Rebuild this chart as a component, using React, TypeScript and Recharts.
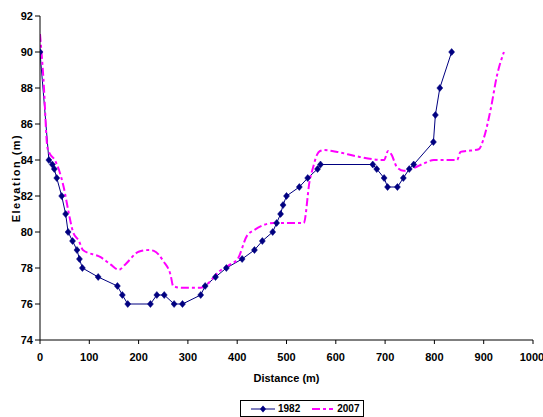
import { LineChart, Line, XAxis, YAxis, Legend } from "recharts";

const dist1982 = [0, 18, 25, 29, 34, 44, 52, 57, 66, 75, 80, 86, 118, 157, 167, 178, 224, 237, 252, 272, 289, 326, 335, 356, 378, 410, 435, 451, 472, 480, 488, 493, 500, 526, 543, 563, 569, 675, 683, 698, 705, 725, 737, 749, 758, 798, 802, 811, 835];
const elev1982 = [90, 84, 83.75, 83.5, 83, 82, 81, 80, 79.5, 79, 78.5, 78, 77.5, 77, 76.5, 76, 76, 76.5, 76.5, 76, 76, 76.5, 77, 77.5, 78, 78.5, 79, 79.5, 80, 80.5, 81, 81.5, 82, 82.5, 83, 83.5, 83.75, 83.75, 83.5, 83, 82.5, 82.5, 83, 83.5, 83.75, 85, 86.5, 88, 90];

const dist2007 = [0, 7, 15, 19, 30, 39, 48, 58, 67, 79, 87, 123, 143, 160, 173, 200, 221, 231, 251, 265, 270, 288, 326, 339, 363, 386, 401, 420, 434, 474, 535, 547, 554, 562, 568, 576, 603, 643, 698, 706, 713, 724, 738, 758, 778, 799, 846, 853, 866, 890, 900, 914, 927, 941];
const elev2007 = [91, 88.5, 84.7, 84.4, 84, 83.4, 82.5, 81.1, 80, 79.5, 79, 78.6, 78.2, 77.9, 78.2, 78.9, 79, 78.95, 78.35, 77.6, 77, 76.9, 76.9, 77.1, 77.8, 78.2, 78.5, 79.8, 80.1, 80.5, 80.5, 82.85, 83.6, 84.3, 84.5, 84.55, 84.45, 84.2, 84, 84.5, 84.3, 83.6, 83.4, 83.55, 83.8, 84, 84, 84.45, 84.5, 84.6, 85.2, 86.8, 88.7, 90];

const xTicks = [0, 100, 200, 300, 400, 500, 600, 700, 800, 900, 1000];
const yTicks = [74, 76, 78, 80, 82, 84, 86, 88, 90, 92];
const seriesNames = ["1982", "2007"];

const data1982 = dist1982.map((d, i) => ({ distance: d, elevation: elev1982[i] }));
const data2007 = dist2007.map((d, i) => ({ distance: d, elevation: elev2007[i] }));

const BLUE = "#000080";
const MAGENTA = "#FF00FF";
const FONT = "'Liberation Sans Narrow', 'Liberation Sans', Arial, sans-serif";
const tickStyle = { fill: "#000", fontSize: 11, fontWeight: 700, fontFamily: FONT };

function Diamond(props: any) {
  const { cx, cy, index } = props;
  if (cx == null || cy == null) return null;
  return (
    <path
      key={`d-${index}`}
      d={`M${cx},${cy - 3.5}L${cx + 3},${cy}L${cx},${cy + 3.5}L${cx - 3},${cy}Z`}
      fill={BLUE}
      stroke={BLUE}
      strokeWidth={0.5}
    />
  );
}

function LegendBox() {
  return (
    <div
      style={{
        display: "flex",
        alignItems: "center",
        border: "1px solid #000",
        padding: "2px 3px 2px 10px",
        background: "#fff",
        fontFamily: FONT,
        fontSize: 10,
        fontWeight: 700,
      }}
    >
      <svg width={24} height={10}>
        <line x1={0} y1={5} x2={24} y2={5} stroke={BLUE} strokeWidth={1} />
        <path d="M12,1.5L15,5L12,8.5L9,5Z" fill={BLUE} />
      </svg>
      <span style={{ marginLeft: 3 }}>{seriesNames[0]}</span>
      <svg width={21} height={10} style={{ marginLeft: 12 }}>
        <line x1={0} y1={5} x2={21} y2={5} stroke={MAGENTA} strokeWidth={2} strokeDasharray="8 3 3 3" />
      </svg>
      <span style={{ marginLeft: 4 }}>{seriesNames[1]}</span>
    </div>
  );
}

export default function App() {
  return (
    <div style={{ position: "absolute", left: 0, top: 0, background: "#fff" }}>
      <LineChart width={543} height={417} margin={{ top: 16, right: 10, left: 0, bottom: 35 }}>
        <XAxis
          xAxisId="bottom"
          type="number"
          dataKey="distance"
          domain={[0, 1000]}
          ticks={xTicks}
          allowDataOverflow
          stroke="#000"
          tickSize={4}
          tickMargin={9}
          tick={tickStyle}
          height={42}
          label={{ value: "Distance (m)", position: "insideBottom", offset: 0, style: { ...tickStyle, fontSize: 11 } }}
        />
        <XAxis
          xAxisId="top"
          orientation="top"
          type="number"
          dataKey="distance"
          domain={[0, 1000]}
          tick={false}
          tickLine={false}
          height={0}
          stroke="#000"
          strokeWidth={2}
        />
        <YAxis
          yAxisId="left"
          type="number"
          domain={[74, 92]}
          ticks={yTicks}
          allowDataOverflow
          stroke="#000"
          tickSize={5}
          tickMargin={2}
          tick={tickStyle}
          width={40}
          label={{
            value: "Elevation (m)",
            angle: -90,
            position: "insideLeft",
            offset: 16,
            style: { ...tickStyle, fontSize: 11, textAnchor: "middle", letterSpacing: 1.5 },
          }}
        />
        <YAxis
          yAxisId="right"
          orientation="right"
          type="number"
          domain={[74, 92]}
          tick={false}
          tickLine={false}
          width={0}
          stroke="#444"
          strokeWidth={2}
        />
        <Legend
          verticalAlign="middle"
          align="center"
          wrapperStyle={{ left: 240, top: 400, width: "auto" }}
          content={() => <LegendBox />}
        />
        <Line
          xAxisId="bottom"
          yAxisId="left"
          data={data1982}
          dataKey="elevation"
          name={seriesNames[0]}
          type="linear"
          stroke={BLUE}
          strokeWidth={1}
          dot={Diamond}
          activeDot={false}
          isAnimationActive={false}
        />
        <Line
          xAxisId="bottom"
          yAxisId="left"
          data={data2007}
          dataKey="elevation"
          name={seriesNames[1]}
          type="monotone"
          stroke={MAGENTA}
          strokeWidth={2}
          strokeDasharray="8 3 3 3"
          dot={false}
          activeDot={false}
          isAnimationActive={false}
        />
      </LineChart>
    </div>
  );
}
